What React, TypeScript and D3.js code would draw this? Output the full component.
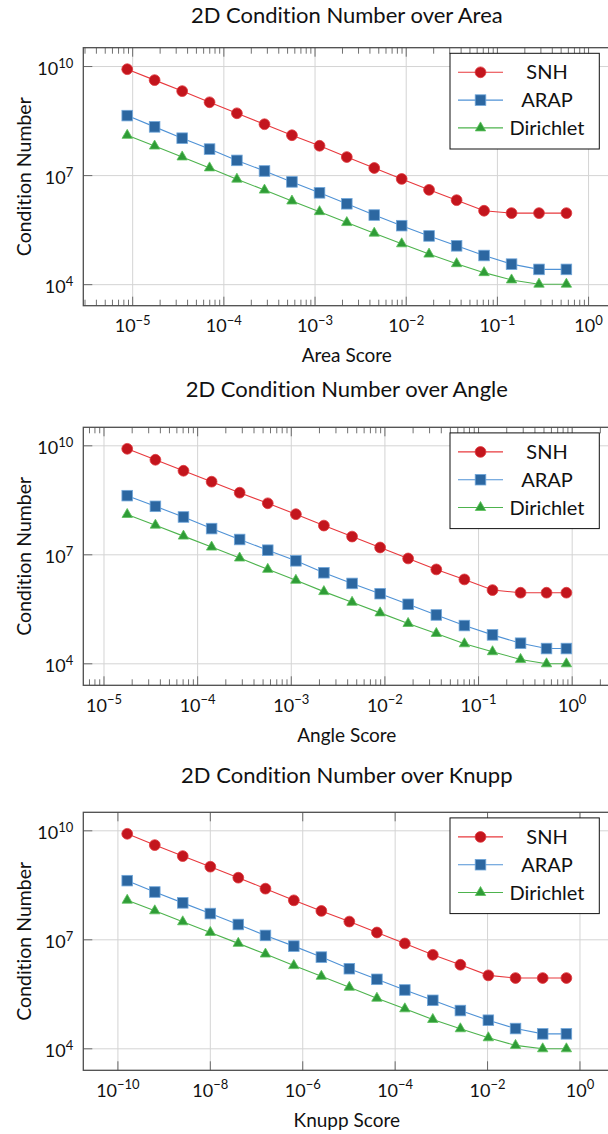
import React from 'react';
import * as d3 from 'd3';

// x values (quality scores) and condition numbers
const areaScore = [8.71e-6, 1.74e-5, 3.49e-5, 6.97e-5, 1.39e-4, 2.79e-4, 5.58e-4, 1.12e-3, 2.23e-3, 4.46e-3, 8.92e-3, 0.0178, 0.0357, 0.0714, 0.143, 0.286, 0.571];
const areaSNH = [8.45e9, 4.23e9, 2.11e9, 1.04e9, 5.18e8, 2.59e8, 1.29e8, 6.62e7, 3.24e7, 1.62e7, 8.1e6, 4.06e6, 2.11e6, 1.08e6, 9.3e5, 9.3e5, 9.3e5];
const areaARAP = [4.47e8, 2.19e8, 1.07e8, 5.36e7, 2.62e7, 1.34e7, 6.71e6, 3.36e6, 1.68e6, 8.22e5, 4.2e5, 2.19e5, 1.17e5, 6.34e4, 3.67e4, 2.63e4, 2.63e4];
const areaDirichlet = [1.28e8, 6.5e7, 3.26e7, 1.63e7, 7.98e6, 3.99e6, 2.0e6, 1.02e6, 5.1e5, 2.61e5, 1.33e5, 6.93e4, 3.78e4, 2.14e4, 1.35e4, 1.03e4, 1.03e4];

const angleScore = [1.77e-5, 3.54e-5, 7.06e-5, 1.41e-4, 2.81e-4, 5.61e-4, 1.12e-3, 2.23e-3, 4.46e-3, 8.89e-3, 0.0177, 0.0354, 0.0706, 0.141, 0.281, 0.532, 0.867];
const angleSNH = [8.28e9, 4.13e9, 2.06e9, 1.03e9, 5.13e8, 2.62e8, 1.31e8, 6.38e7, 3.18e7, 1.59e7, 7.93e6, 3.96e6, 2.1e6, 1.07e6, 9.06e5, 9.06e5, 9.06e5];
const angleARAP = [4.25e8, 2.16e8, 1.1e8, 5.27e7, 2.64e7, 1.34e7, 6.84e6, 3.21e6, 1.63e6, 8.51e5, 4.34e5, 2.21e5, 1.13e5, 6.25e4, 3.69e4, 2.63e4, 2.63e4];
const angleDirichlet = [1.29e8, 6.55e7, 3.27e7, 1.63e7, 8.15e6, 3.98e6, 1.99e6, 9.7e5, 4.94e5, 2.52e5, 1.29e5, 6.84e4, 3.56e4, 2.15e4, 1.32e4, 1.0e4, 1.0e4];

const knuppScore = [1.59e-10, 6.28e-10, 2.53e-9, 1.0e-8, 4.03e-8, 1.56e-7, 6.41e-7, 2.53e-6, 1.02e-5, 4.03e-5, 1.62e-4, 6.53e-4, 2.58e-3, 0.0104, 0.0403, 0.156, 0.508];
const knuppSNH = [8.28e9, 4.05e9, 2.02e9, 1.03e9, 5.13e8, 2.56e8, 1.22e8, 6.25e7, 3.18e7, 1.59e7, 7.93e6, 3.87e6, 2.06e6, 1.05e6, 8.87e5, 8.87e5, 8.87e5];
const knuppARAP = [4.25e8, 2.07e8, 1.04e8, 5.28e7, 2.64e7, 1.32e7, 6.7e6, 3.34e6, 1.6e6, 8.17e5, 4.16e5, 2.16e5, 1.13e5, 6.12e4, 3.61e4, 2.58e4, 2.58e4];
const knuppDirichlet = [1.23e8, 6.28e7, 3.13e7, 1.6e7, 7.98e6, 4.06e6, 1.95e6, 9.9e5, 4.94e5, 2.47e5, 1.26e5, 6.41e4, 3.56e4, 2.01e4, 1.24e4, 1.0e4, 1.0e4];

const decadeTicks = [1e-5, 1e-4, 1e-3, 1e-2, 1e-1, 1];
const knuppTicks = [1e-10, 1e-8, 1e-6, 1e-4, 1e-2, 1];
const yTicks = [1e4, 1e7, 1e10];
const seriesNames = ['SNH', 'ARAP', 'Dirichlet'];

const FONT = 'Lato, "Open Sans", sans-serif';
const LEFT = 83.3;
const PW = 527;
const PH = 258;
const FRAME = '#4d4d4d';
const GRID = '#d4d4d4';
const TXT = { fontFamily: FONT, fill: '#111', style: { fontVariantLigatures: 'none' } as any };

const styles = [
  { line: '#e8383d', fill: '#c3151d', stroke: '#e0393d', mark: 'circle' },
  { line: '#4f92d6', fill: '#2c67a1', stroke: '#71a7da', mark: 'square' },
  { line: '#4db34d', fill: '#2f9c37', stroke: '#5cc15c', mark: 'triangle' },
];

// pgfplots-style 10% enlargement of the log range
function enlarge(vals: number[]): [number, number] {
  const logs = vals.map(Math.log10);
  const a = d3.min(logs) as number;
  const b = d3.max(logs) as number;
  const p = (b - a) * 0.1;
  return [Math.pow(10, a - p), Math.pow(10, b + p)];
}

function Marker({ kind, x, y, s }: any) {
  if (kind === 'circle') return <circle cx={x} cy={y} r={5.4} fill={s.fill} stroke={s.stroke} strokeWidth={0.8} />;
  if (kind === 'square') return <rect x={x - 5.3} y={y - 5.3} width={10.6} height={10.6} fill={s.fill} stroke={s.stroke} strokeWidth={0.8} />;
  const r = 6;
  const pts = [[x, y - r], [x - r * 0.866, y + r * 0.5], [x + r * 0.866, y + r * 0.5]];
  return <polygon points={pts.map((p) => p.join(',')).join(' ')} fill={s.fill} stroke={s.stroke} strokeWidth={0.8} />;
}

function PowLabel({ v, x, y, anchor }: any) {
  const e = Math.round(Math.log10(v));
  const exp = e < 0 ? '\u2212' + Math.abs(e) : String(e);
  return (
    <text x={x} y={y} textAnchor={anchor} fontSize={18} {...TXT}>
      10<tspan dy={-7.5} fontSize={13}>{exp}</tspan>
    </text>
  );
}

function Panel({ p }: any) {
  const top = p.top;
  const bottom = top + PH;
  const x = d3.scaleLog().domain(enlarge(p.xs)).range([LEFT, LEFT + PW]);
  const y = d3.scaleLog().domain(enlarge([...p.snh, ...p.arap, ...p.dir])).range([bottom, top]);
  const [x0, x1] = x.domain();

  const minor: number[] = [];
  if (p.minor) {
    for (let d = Math.floor(Math.log10(x0)); d <= Math.ceil(Math.log10(x1)); d++) {
      for (let m = 2; m <= 9; m++) {
        const v = m * Math.pow(10, d);
        if (v > x0 && v < x1) minor.push(v);
      }
    }
  }

  const data = [p.snh, p.arap, p.dir];
  const line = d3.line<number>().x((d, i) => x(p.xs[i])).y((d) => y(d));
  const cx = LEFT + PW / 2;
  const lgTop = top + 5.6;
  const lgRows = [24.6, 52.4, 80.2];

  return (
    <g>
      <text x={cx} y={top - p.titleGap} textAnchor="middle" fontSize={22} {...TXT}>{p.title}</text>
      {p.ticks.map((t: number) => (
        <line key={'gx' + t} x1={x(t)} x2={x(t)} y1={top} y2={bottom} stroke={GRID} strokeWidth={1} />
      ))}
      {yTicks.map((t) => (
        <line key={'gy' + t} x1={LEFT} x2={LEFT + PW} y1={y(t)} y2={y(t)} stroke={GRID} strokeWidth={1} />
      ))}
      {minor.map((t) => (
        <g key={'m' + t} stroke={FRAME} strokeWidth={0.8}>
          <line x1={x(t)} x2={x(t)} y1={top} y2={top + 6} />
          <line x1={x(t)} x2={x(t)} y1={bottom} y2={bottom - 6} />
        </g>
      ))}
      {p.ticks.map((t: number) => (
        <g key={'tx' + t} stroke={FRAME} strokeWidth={0.8}>
          <line x1={x(t)} x2={x(t)} y1={top} y2={top + 9} />
          <line x1={x(t)} x2={x(t)} y1={bottom} y2={bottom - 9} />
        </g>
      ))}
      {yTicks.map((t) => (
        <line key={'ty' + t} x1={LEFT} x2={LEFT + 9} y1={y(t)} y2={y(t)} stroke={FRAME} strokeWidth={0.8} />
      ))}
      <rect x={LEFT} y={top} width={PW} height={PH} fill="none" stroke={FRAME} strokeWidth={1.3} />

      {data.map((vals: number[], k: number) => (
        <g key={seriesNames[k]}>
          <path d={line(vals) as string} fill="none" stroke={styles[k].line} strokeWidth={1.1} />
          {vals.map((v, i) => (
            <Marker key={i} kind={styles[k].mark} x={x(p.xs[i])} y={y(v)} s={styles[k]} />
          ))}
        </g>
      ))}

      {p.ticks.map((t: number) => (
        <PowLabel key={'lx' + t} v={t} x={x(t)} y={bottom + 26.6} anchor="middle" />
      ))}
      {yTicks.map((t) => (
        <PowLabel key={'ly' + t} v={t} x={LEFT - 10} y={y(t) + 8.5} anchor="end" />
      ))}
      <text x={cx} y={bottom + 56.3} textAnchor="middle" fontSize={19} {...TXT}>{p.xLabel}</text>
      <text transform={`translate(31,${top + PH / 2}) rotate(-90)`} textAnchor="middle" fontSize={19.5} {...TXT}>Condition Number</text>

      <rect x={450} y={lgTop} width={149.3} height={95.7} fill="#fff" stroke="#111" strokeWidth={1} />
      {seriesNames.map((n, k) => (
        <g key={'lg' + n}>
          <line x1={458} x2={503} y1={top + lgRows[k]} y2={top + lgRows[k]} stroke={styles[k].line} strokeWidth={1.1} />
          <Marker kind={styles[k].mark} x={480.5} y={top + lgRows[k]} s={styles[k]} />
          <text x={547} y={top + lgRows[k] + 7} textAnchor="middle" fontSize={20} {...TXT}>{n}</text>
        </g>
      ))}
    </g>
  );
}

const panels = [
  { title: '2D Condition Number over Area', xLabel: 'Area Score', xs: areaScore, snh: areaSNH, arap: areaARAP, dir: areaDirichlet, ticks: decadeTicks, minor: true, top: 47.7, titleGap: 25 },
  { title: '2D Condition Number over Angle', xLabel: 'Angle Score', xs: angleScore, snh: angleSNH, arap: angleARAP, dir: angleDirichlet, ticks: decadeTicks, minor: true, top: 427.3, titleGap: 30 },
  { title: '2D Condition Number over Knupp', xLabel: 'Knupp Score', xs: knuppScore, snh: knuppSNH, arap: knuppARAP, dir: knuppDirichlet, ticks: knuppTicks, minor: false, top: 812.3, titleGap: 29.5 },
];

export default function App() {
  return (
    <svg width={608} height={1134} style={{ position: 'absolute', left: 0, top: 0, background: '#fff' }}>
      {panels.map((p) => (
        <Panel key={p.title} p={p} />
      ))}
    </svg>
  );
}
